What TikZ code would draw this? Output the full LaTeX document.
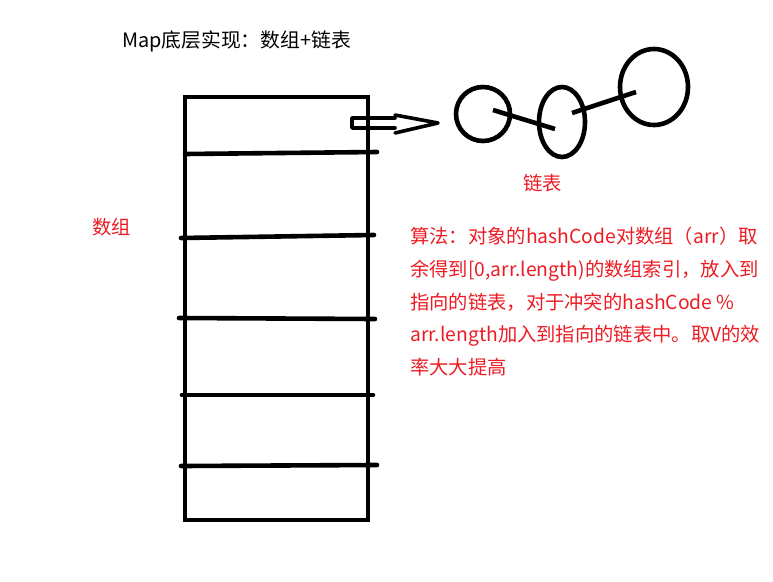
\documentclass[tikz,border=0pt]{standalone}
\usepackage{fontspec}
\setmainfont{Liberation Sans}
\newfontfamily\cjk{Noto Sans CJK SC}
\usetikzlibrary{shapes.geometric}
\definecolor{pred}{RGB}{237,28,36}
\begin{document}
\begin{tikzpicture}[x=1pt,y=-1pt,
  ink/.style={line width=4.6pt, line cap=round},
  ring/.style={ellipse, draw, line width=4.6pt, inner sep=0pt},
  title/.style={font=\cjk\fontsize{19.8}{24}\selectfont, inner sep=0pt, anchor=base west},
  redtxt/.style={font=\cjk\fontsize{19.3}{24}\selectfont, text=pred, inner sep=0pt, anchor=base west}]
\useasboundingbox (0,0) rectangle (773,581);
\fill[white] (0,0) rectangle (773,581);

% title
\node[title] (ttl) at (122,47) {Map底层实现：数组+链表};

% array
\node[draw, line width=4.6pt, minimum width=183pt, minimum height=423pt, inner sep=0pt] (arr) at (276.5,308.5) {};
\draw[ink] (185,154) -- (377,152);
\draw[ink] (181,238) -- (374,235);
\draw[ink] (179,318) -- (375,319);
\draw[ink] (182,395) -- (373,395);
\draw[ink] (181,466) -- (377,465);
\node[redtxt] (lblarr) at (92,234) {数组};

% hollow arrow
\coordinate (ah) at (438,123);
\draw[line width=3.6pt, line join=round, line cap=round]
  (395,118) -- (352,118) -- (352,128) -- (395,128);
\draw[line width=3.6pt, line join=round, line cap=round]
  (395,115) -- (ah) -- (395,133);

% linked list
\node[ring, minimum width=54pt, minimum height=54pt] (n1) at (483,114) {};
\node[ring, minimum width=46pt, minimum height=70pt] (n2) at (562,122) {};
\node[ring, minimum width=68pt, minimum height=76pt] (n3) at (654,87) {};
\draw[ink, line cap=butt] ([shift={(10,-4)}]n1.center) -- ([shift={(-7,7)}]n2.center);
\draw[ink, line cap=butt] ([shift={(10,-9)}]n2.center) -- ([shift={(-18,5)}]n3.center);
\node[redtxt] (lbllist) at (523,190) {链表};

% algorithm text
\node[redtxt] (al1) at (410,243) {算法：对象的hashCode对数组（arr）取};
\node[redtxt] (al2) at (410,276) {余得到[0,arr.length)的数组索引，放入到};
\node[redtxt] (al3) at (410,309) {指向的链表，对于冲突的hashCode \%};
\node[redtxt] (al4) at (410,341) {arr.length加入到指向的链表中。取V的效};
\node[redtxt] (al5) at (410,374) {率大大提高};
\end{tikzpicture}
\end{document}
